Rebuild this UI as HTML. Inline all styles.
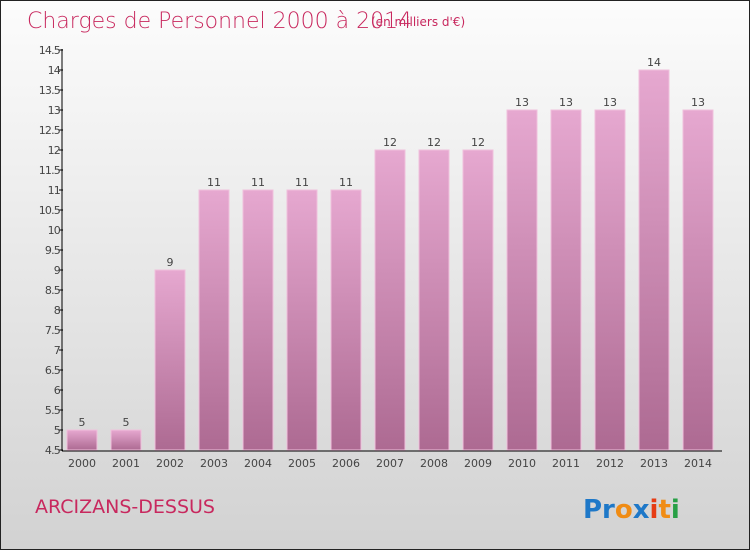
<!DOCTYPE html>
<html><head><meta charset="utf-8"><style>
body{margin:0;width:750px;height:550px;overflow:hidden}
#c{position:relative;width:748px;height:548px;border:1px solid #222;background:linear-gradient(#fcfcfc,#d2d2d2);font-family:"DejaVu Sans","Liberation Sans",sans-serif}
</style></head><body>
<div id="c">
<svg width="748" height="548">
<defs><linearGradient id="bg" x1="0" y1="0" x2="0" y2="1"><stop offset="0" stop-color="#e6a8d0"/><stop offset="1" stop-color="#ad6a92"/></linearGradient></defs>
<text x="26" y="27" font-size="22" fill="#c8285e" font-family="DejaVu Sans" font-weight="200">Charges de Personnel 2000 à 2014</text>
<text x="370" y="25" font-size="12" fill="#c8285e">(en milliers d'€)</text>
<g id="plot"></g>
<text x="34" y="512" font-size="19" fill="#c8285e">ARCIZANS-DESSUS</text>
<g font-size="26" font-weight="bold" font-family="DejaVu Sans">
<text x="582" y="517"><tspan fill="#1e78c8">Pr</tspan><tspan fill="#f08c14">o</tspan><tspan fill="#1e78c8">x</tspan><tspan fill="#e63c14">i</tspan><tspan fill="#f08c14">t</tspan><tspan fill="#28a046">i</tspan></text></g>
</svg></div>
<script>
const years=["2000","2001","2002","2003","2004","2005","2006","2007","2008","2009","2010","2011","2012","2013","2014"];
const values=[5,5,9,11,11,11,11,12,12,12,13,13,13,14,13];
const ticks=[4.5,5,5.5,6,6.5,7,7.5,8,8.5,9,9.5,10,10.5,11,11.5,12,12.5,13,13.5,14,14.5];
const NS="http://www.w3.org/2000/svg",g=document.getElementById('plot');
const y=v=>449-(v-4.5)*40, x=i=>81+i*44;
function mk(t,a,txt){const e=document.createElementNS(NS,t);for(const k in a)e.setAttribute(k,a[k]);if(txt!=null)e.textContent=txt;g.appendChild(e);return e;}
values.forEach((v,i)=>{
const r=mk('rect',{x:x(i)-15,y:y(v),width:30,height:y(4.5)-y(v),fill:'url(#bg)',stroke:'#f0c0dc','stroke-width':1});


const t=mk('text',{x:x(i),y:y(v)-4,'font-size':11,fill:'#444','text-anchor':'middle'},String(v));


const l=mk('text',{x:x(i),y:466,'font-size':11,fill:'#444','text-anchor':'middle'},years[i]);


});
ticks.forEach(v=>{
mk('line',{x1:58,x2:62,y1:y(v),y2:y(v),stroke:'#000'});
const t=mk('text',{x:59,y:y(v)+4,'font-size':11,fill:'#444','text-anchor':'end','letter-spacing':'-0.8'},String(v));


});
const ya=mk('line',{x1:61,x2:61,y1:48,y2:450,stroke:'#000'});


const xa=mk('line',{x1:61,x2:721,y1:450,y2:450,stroke:'#000'});


</script>
</body></html>
